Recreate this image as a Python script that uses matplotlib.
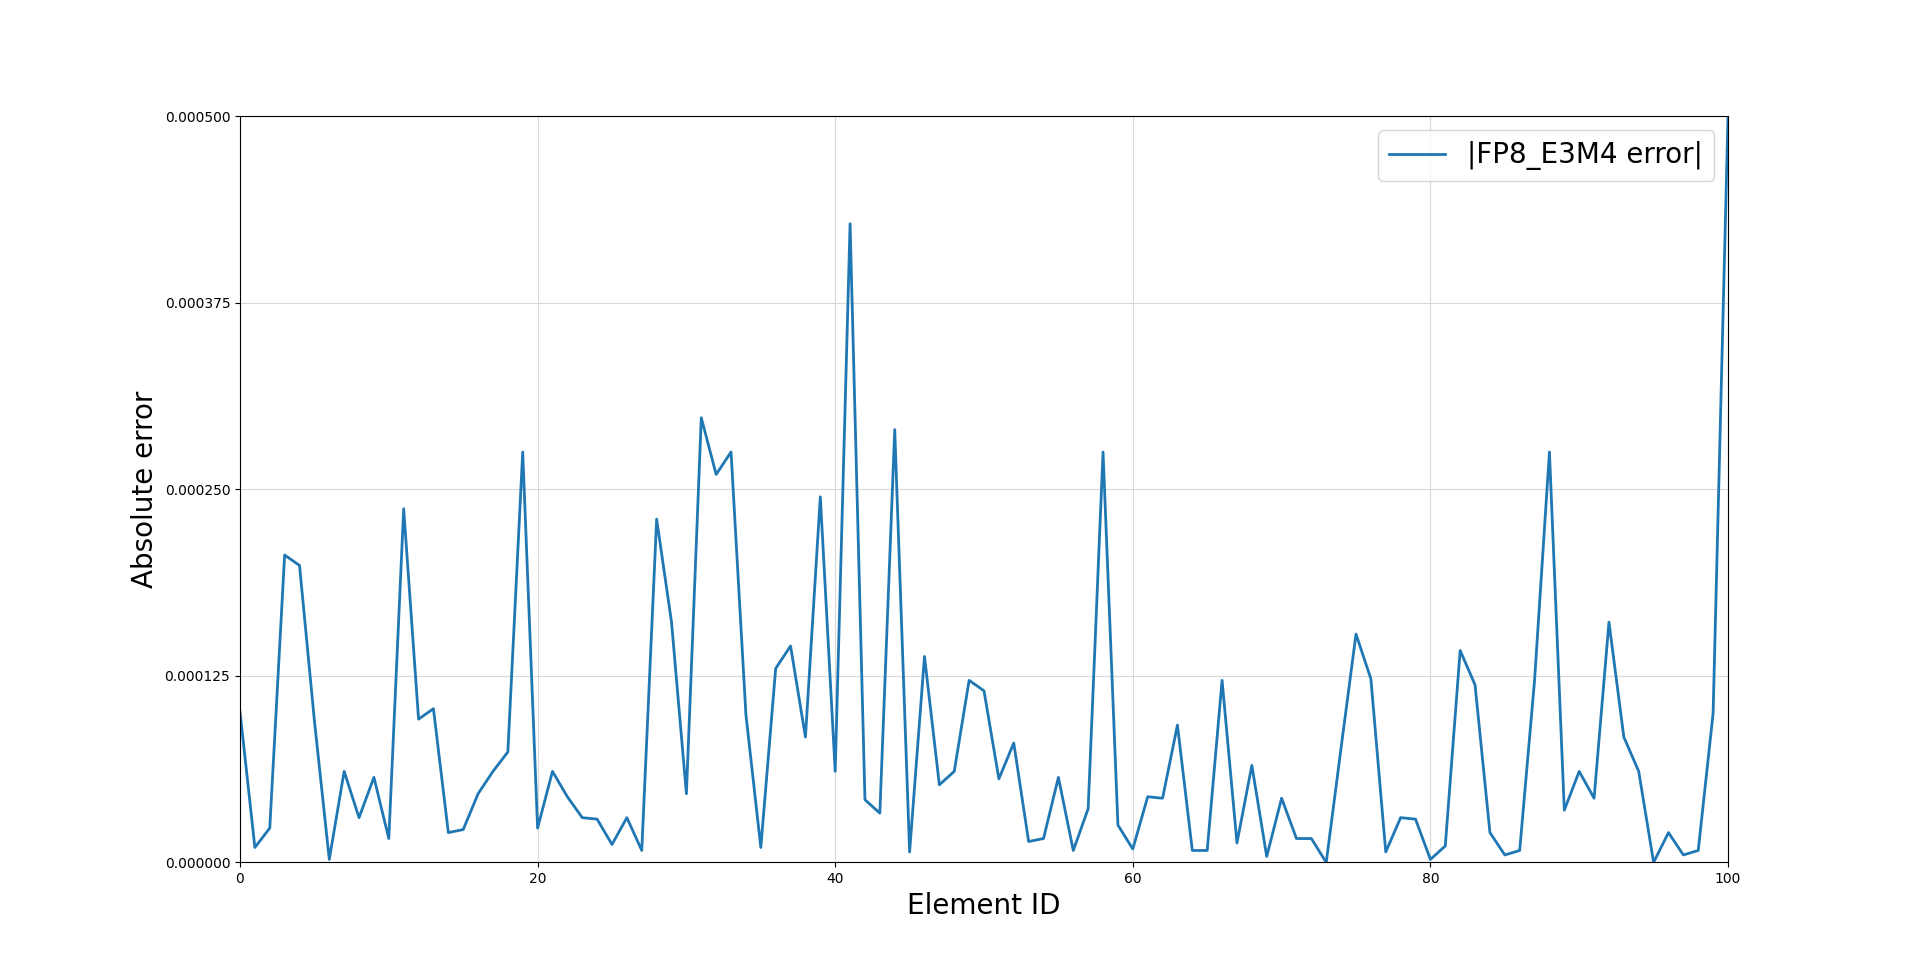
import matplotlib.pyplot as plt
from matplotlib.ticker import FormatStrFormatter

element_ids = list(range(101))
# absolute error, in units of 1e-6
error_micro = [
    101, 10, 23, 206, 199, 95, 2, 61, 30, 57,
    16, 237, 96, 103, 20, 22, 46, 61, 74, 275,
    23, 61, 44, 30, 29, 12, 30, 8, 230, 161,
    46, 298, 260, 275, 99, 10, 130, 145, 84, 245,
    61, 428, 42, 33, 290, 7, 138, 52, 61, 122,
    115, 56, 80, 14, 16, 57, 8, 36, 275, 25,
    9, 44, 43, 92, 8, 8, 122, 13, 65, 4,
    43, 16, 16, 0, 77, 153, 123, 7, 30, 29,
    2, 11, 142, 119, 20, 5, 8, 122, 275, 35,
    61, 43, 161, 84, 61, 0, 20, 5, 8, 100,
    500,
]
abs_error = [v * 1e-6 for v in error_micro]
y_ticks = [0, 0.000125, 0.00025, 0.000375, 0.0005]

fig, ax = plt.subplots(figsize=(19.2, 9.69), dpi=100)
ax.plot(element_ids, abs_error, color="#1f77b4", linewidth=2, label="|FP8_E3M4 error|")
ax.set_xlim(0, 100)
ax.set_ylim(0, 0.0005)
ax.set_yticks(y_ticks)
ax.yaxis.set_major_formatter(FormatStrFormatter("%.6f"))
ax.grid(True, color="#d9d9d9", linewidth=0.8)
ax.set_xlabel("Element ID", fontsize=20)
ax.set_ylabel("Absolute error", fontsize=20)
ax.legend(loc="upper right", fontsize=20)
fig.savefig("out.png")
